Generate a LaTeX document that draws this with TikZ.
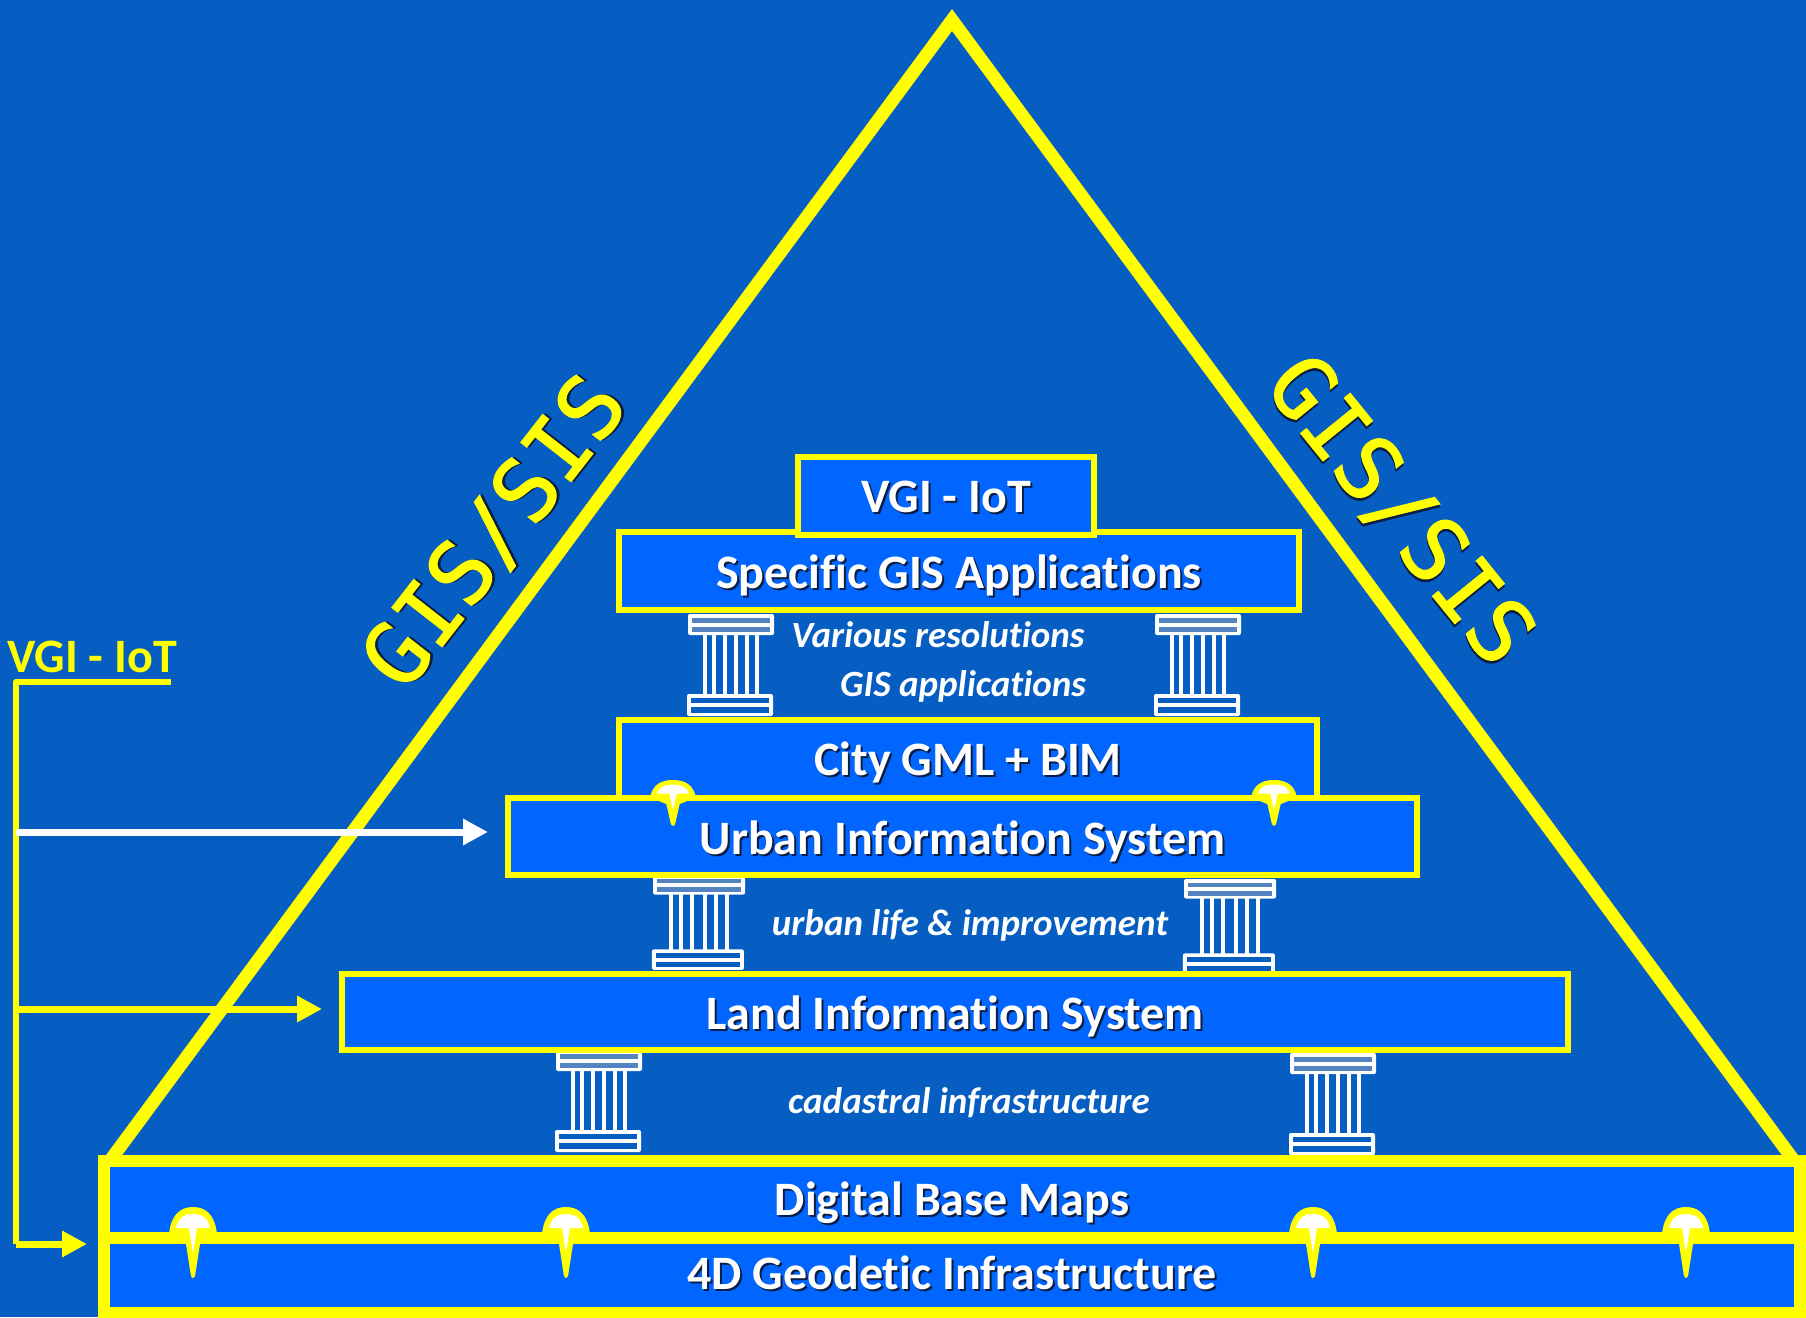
\documentclass[tikz,border=0pt]{standalone}
\usepackage{fontspec}
\setmainfont{Carlito}[Ligatures=CommonOff]
\newfontfamily\handfont[FakeBold=1.6]{DejaVu Sans Mono}
\usetikzlibrary{arrows.meta}
\definecolor{bgblue}{RGB}{6,93,194}
\definecolor{boxblue}{RGB}{0,102,255}
\definecolor{capblue}{RGB}{84,132,192}
\definecolor{ylw}{RGB}{255,255,0}
\definecolor{softshadow}{RGB}{10,30,70}
\newcommand{\tierfont}{\fontsize{48}{48}\selectfont\bfseries}
\newcommand{\gisfont}{\fontsize{87}{87}\selectfont\handfont}
\newcommand{\shadowed}[1]{\leavevmode\rlap{\kern2pt\raisebox{-2pt}{\textcolor{softshadow}{#1}}}#1}
\tikzset{
  tier/.style={draw=ylw,fill=boxblue,line width=6pt,inner sep=0pt,text=white,
    font=\tierfont,text height=32pt,text depth=0pt,align=center},
  basetier/.style={tier,line width=12pt},
  note/.style={inner sep=0pt,anchor=base,text=white,font=\fontsize{37}{37}\selectfont\bfseries\itshape},
  handtext/.style={inner sep=0pt,text=ylw,font=\gisfont,text height=62pt,text depth=0pt},
  arrowline/.style={line width=7pt,ylw,-{Triangle[length=25pt,width=25pt]}},
  pillarpic/.pic={
    \foreach \px in {17,26,36.7,48.3,59.3,69}
      \draw[white,line width=4pt] (\px,20) -- (\px,82);
    \fill[white,rounded corners=2pt] (0,0) rectangle (86,21);
    \fill[capblue] (4,4) rectangle (82,8.7);
    \fill[capblue] (4,12.7) rectangle (82,18);
    \fill[white,rounded corners=2pt] (-1,80) rectangle (85,102);
    \fill[bgblue] (3,84) rectangle (81,89);
    \fill[bgblue] (3,93.3) rectangle (81,98.7);
  },
  tackpic/.pic={
    \fill[ylw] (-24,27) .. controls (-22,8) and (-13,0) .. (0,0) .. controls (13,0) and (22,8) .. (24,27)
       -- (7,37) -- (2.2,68) .. controls (1.5,72) and (-1.5,72) .. (-2.2,68) -- (-7,37) -- cycle;
    \fill[white] (-17,21) .. controls (-15,11) and (-9,7) .. (0,7) .. controls (9,7) and (15,11) .. (17,21)
       -- (4,21) -- (0,46) -- (-4,21) -- cycle;
  }
}
\begin{document}
\begin{tikzpicture}[x=1pt,y=-1pt]
\useasboundingbox (0,0) rectangle (1806,1317);
\fill[bgblue] (0,0) rectangle (1806,1317);

% large triangle
\coordinate (apex) at (952,20);
\coordinate (baseL) at (109,1162);
\coordinate (baseR) at (1795,1162);
\draw[ylw,line width=13pt,line join=miter,miter limit=10] (baseL) -- (apex) -- (baseR);

% side captions
\node[handtext,rotate=52] (gisL) at (493,531) {\shadowed{GIS/SIS}};
\node[handtext,rotate=-51] (gisR) at (1402,509) {\shadowed{GIS/SIS}};

% pillars
\pic at (688,614) {pillarpic};
\pic at (1155,614) {pillarpic};
\pic[xscale=1.07,yscale=0.93] at (653,875) {pillarpic};
\pic[xscale=1.07,yscale=0.93] at (1184,879) {pillarpic};
\pic at (556,1050) {pillarpic};
\pic at (1290,1053) {pillarpic};

% tiers
\node[tier,minimum width=680pt,minimum height=78pt,text height=34pt] (spec) at (959,571) {\shadowed{Specific GIS Applications}};
\node[tier,minimum width=296pt,minimum height=78pt] (vgi) at (946,496) {\shadowed{VGI - IoT}};
\node[tier,minimum width=698pt,minimum height=79pt] (city) at (968,759.5) {\shadowed{City GML + BIM}};
\node[tier,minimum width=909pt,minimum height=77pt,text height=35pt] (urban) at (962.5,836.5) {\shadowed{Urban Information System}};
\node[tier,minimum width=1226pt,minimum height=76pt,text height=34pt] (land) at (955,1012) {\shadowed{Land Information System}};
\node[basetier,minimum width=1696pt,minimum height=78pt,text height=31pt] (digital) at (952,1199.5) {\shadowed{Digital Base Maps}};
\node[basetier,minimum width=1696pt,minimum height=75pt,text height=29pt] (geo) at (952,1275) {\shadowed{4D Geodetic Infrastructure}};

% pins
\pic[xscale=0.95,yscale=0.65] at (673,780) {tackpic};
\pic[xscale=0.95,yscale=0.65] at (1274,780) {tackpic};
\pic at (193,1207) {tackpic};
\pic at (566,1207) {tackpic};
\pic at (1313,1207) {tackpic};
\pic at (1686,1207) {tackpic};

% notes
\node[note] (n1) at (938,647) {Various resolutions};
\node[note] (n2) at (963,696) {GIS applications};
\node[note] (n3) at (970,935) {urban life \& improvement};
\node[note] (n4) at (969,1113) {cadastral infrastructure};

% side connector
\node[inner sep=0pt,anchor=base,text=ylw,font=\tierfont] (sidelabel) at (92,672) {VGI - IoT};
\coordinate (underR) at (171,682);
\coordinate (trunkTop) at (16,682);
\coordinate (jU) at (16,832);
\coordinate (jL) at (16,1009);
\coordinate (jB) at (16,1244);
\draw[ylw,line width=6.5pt,line join=round] (underR) -- (trunkTop) -- (jB);
\draw[arrowline,white,shorten >=17pt] (jU) -- (jU -| urban.west);
\draw[arrowline,shorten >=17pt] (jL) -- (jL -| land.west);
\draw[arrowline,shorten >=11pt,line join=round] (jB) -- (jB -| geo.west);
\end{tikzpicture}
\end{document}
